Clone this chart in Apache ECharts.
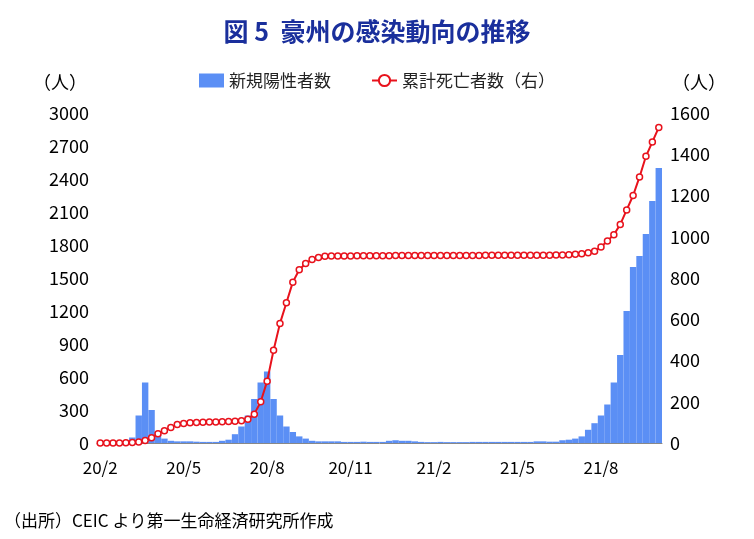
<!DOCTYPE html>
<html><head><meta charset="utf-8">
<script src="https://cdn.jsdelivr.net/npm/echarts@6/dist/echarts.min.js"></script>
<style>body{margin:0}#c{width:754px;height:539px}</style></head>
<body><div id="c"></div>
<script>
// 週次（月曜起点 2020-02-03 〜 2021-10-04）
const startDate = new Date(2020, 1, 3)
const newCases = [0,0,0,0,10,50,250,550,300,100,40,20,15,15,15,12,10,10,10,20,30,80,150,250,400,550,650,400,250,150,100,60,40,20,15,15,15,15,10,10,10,12,10,10,10,20,25,20,20,15,10,8,8,10,8,8,8,8,10,10,10,10,10,10,10,10,10,10,15,15,12,12,25,30,40,60,120,180,250,350,550,800,1200,1600,1700,1900,2200,2500]
const deaths = [0,0,0,0,1,2,5,12,25,45,60,75,90,95,98,100,101,102,102,103,104,105,108,115,140,200,300,450,580,680,780,840,870,890,900,905,907,907,907,907,908,908,908,908,908,908,909,909,909,909,909,909,909,909,909,909,909,909,909,909,910,910,910,910,910,910,910,910,910,910,910,911,912,913,915,918,922,930,950,980,1010,1060,1130,1200,1290,1390,1460,1530]
const dates = newCases.map((_, i) => {
  const d = new Date(startDate.getTime() + i * 7 * 86400000)
  return d.getFullYear() + '/' + (d.getMonth() + 1) + '/' + d.getDate()
})
const showLabel = (i) => {
  const p = dates[i].split('/'), m = +p[1]
  if (m % 3 !== 2) return false
  if (i === 0) return true
  return dates[i - 1].split('/')[1] !== p[1]
}

let myChart = echarts.init(document.getElementById('c'))
const font = '"Noto Sans CJK JP", sans-serif'
let option = {
  textStyle: { fontFamily: font },
  title: {
    text: '図 5  豪州の感染動向の推移', left: 'center', top: 14,
    textStyle: { color: '#1a2f9c', fontSize: 25, fontWeight: 'bold', fontFamily: font }
  },
  legend: {
    top: 67, left: 'center', itemGap: 40,
    textStyle: { fontSize: 17, color: '#222' },
    data: [{ name: '新規陽性者数', icon: 'rect' }, { name: '累計死亡者数（右）' }]
  },
  graphic: [{
    type: 'text', left: 4, bottom: 10,
    style: { text: '（出所）CEIC より第一生命経済研究所作成', fontSize: 17, fill: '#000', fontFamily: font }
  }],
  grid: { left: 97, right: 92, top: 113, bottom: 96 },
  xAxis: {
    type: 'category', data: dates, boundaryGap: true,
    axisLine: { lineStyle: { color: '#888' } }, axisTick: { show: false },
    axisLabel: {
      interval: showLabel, fontSize: 17, color: '#000', margin: 16,
      formatter: v => { const p = v.split('/'); return p[0].slice(2) + '/' + p[1] }
    }
  },
  yAxis: [{
    type: 'value', min: 0, max: 3000, interval: 300,
    name: '（人）', nameGap: 22, nameTextStyle: { fontSize: 18, color: '#000', align: 'right', padding: [0, 10, 0, 0] },
    axisLabel: { fontSize: 18, color: '#000', formatter: v => String(v) },
    splitLine: { show: false }
  }, {
    type: 'value', min: 0, max: 1600, interval: 200,
    name: '（人）', nameGap: 22, nameTextStyle: { fontSize: 18, color: '#000', align: 'left', padding: [0, 0, 0, 10] },
    axisLabel: { fontSize: 18, color: '#000', formatter: v => String(v) }, splitLine: { show: false }
  }],
  series: [{
    name: '新規陽性者数', type: 'bar', data: newCases, barCategoryGap: '0%',
    itemStyle: { color: '#5b8ff5' }
  }, {
    name: '累計死亡者数（右）', type: 'line', yAxisIndex: 1, data: deaths,
    symbol: 'circle', symbolSize: 6, showAllSymbol: true,
    lineStyle: { color: '#e8121c', width: 2 },
    itemStyle: { color: '#fff', borderColor: '#e8121c', borderWidth: 1.5 }
  }]
}
myChart.setOption(option)
window.addEventListener('resize', function () { myChart.resize() })
</script></body></html>
